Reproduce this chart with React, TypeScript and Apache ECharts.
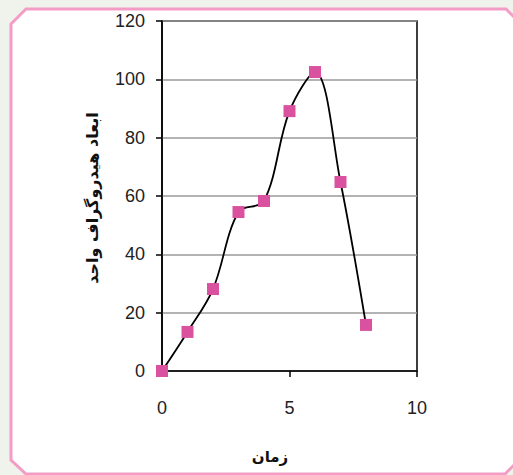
import React, { useEffect, useRef } from "react";
import * as echarts from "echarts";

const times = [0, 1, 2, 3, 4, 5, 6, 7, 8];
const values = [0, 13.4, 28.1, 54.5, 58.3, 89.1, 102.5, 64.8, 15.8];
const xAxisTitle = "زمان";
const yAxisTitle = "ابعاد هیدروگراف واحد";

export default function App() {
  const ref = useRef<HTMLDivElement>(null);
  useEffect(() => {
    if (!ref.current) return;
    const chart = echarts.init(ref.current, null, { renderer: "svg" });
    const pink = "#f39cc6";
    chart.setOption({
      animation: false,
      backgroundColor: "#eff3ec",
      graphic: [
        {
          type: "polygon",
          z: -10,
          shape: {
            points: [
              [11, 24], [26, 9], [506, 9], [516, 19], [516, 463],
              [505, 474], [26, 474], [11, 460],
            ],
          },
          style: { fill: "#ffffff", stroke: pink, lineWidth: 3 },
        },
        {
          type: "text",
          x: 270,
          y: 457,
          style: {
            text: xAxisTitle,
            font: "bold 15px 'DejaVu Sans'",
            fill: "#111",
            align: "center",
            verticalAlign: "middle",
          },
        },
        {
          type: "text",
          x: 92,
          y: 198,
          rotation: Math.PI / 2,
          style: {
            text: yAxisTitle,
            font: "bold 16px 'DejaVu Sans'",
            fill: "#111",
            align: "center",
            verticalAlign: "middle",
          },
        },
      ],
      grid: {
        left: 162,
        top: 21,
        width: 255,
        height: 350,
        show: true,
        borderColor: "#000",
        borderWidth: 1.5,
        backgroundColor: "transparent",
      },
      xAxis: {
        type: "value",
        min: 0,
        max: 10,
        interval: 5,
        axisLine: { show: true, onZero: false, lineStyle: { color: "#000", width: 1.5 } },
        axisTick: { show: true, length: 6, lineStyle: { color: "#000", width: 1.5 } },
        splitLine: { show: false },
        axisLabel: {
          margin: 28,
          color: "#222",
          fontSize: 18,
          fontFamily: "'Liberation Sans', Arial",
        },
      },
      yAxis: {
        type: "value",
        min: 0,
        max: 120,
        interval: 20,
        axisLine: { show: true, onZero: false, lineStyle: { color: "#000", width: 1.5 } },
        axisTick: { show: true, length: 6, lineStyle: { color: "#000", width: 1.5 } },
        splitLine: { show: true, lineStyle: { color: "#9a9a9a", width: 1.5 } },
        axisLabel: {
          margin: 17,
          color: "#222",
          fontSize: 18,
          fontFamily: "'Liberation Sans', Arial",
        },
      },
      series: [
        {
          type: "line",
          data: times.map((t, i) => [t, values[i]]),
          smooth: 0.35,
          symbol: "rect",
          symbolSize: 12,
          showAllSymbol: true,
          lineStyle: { color: "#000", width: 1.8 },
          itemStyle: { color: "#d9519f" },
        },
      ],
    });
    return () => chart.dispose();
  }, []);
  return (
    <div
      ref={ref}
      style={{ position: "fixed", left: 0, top: 0, width: 513, height: 475 }}
    />
  );
}
